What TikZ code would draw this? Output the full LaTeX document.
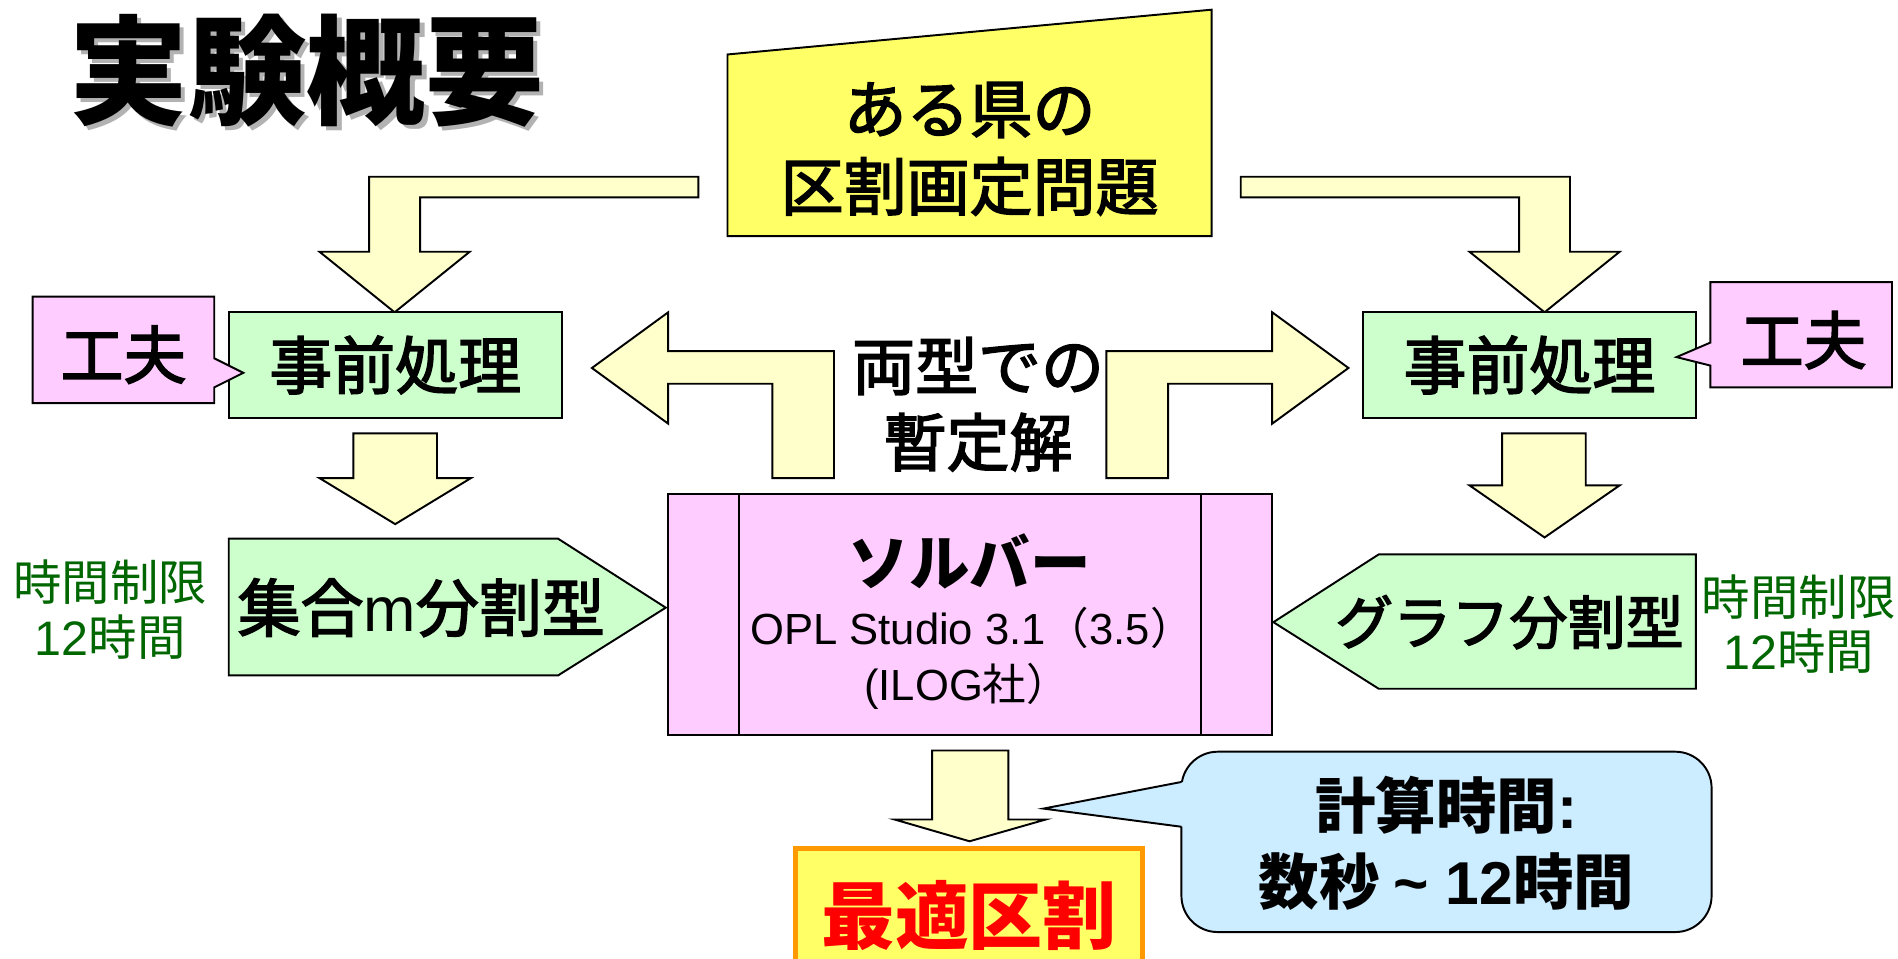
\documentclass[tikz,border=0pt]{standalone}
\usepackage{fontspec}
\setmainfont{Noto Sans CJK JP}
\newfontfamily\jpmed[FakeBold=2.5]{Noto Sans CJK JP}
\newfontfamily\lat{Liberation Sans}
\usepackage{tikz}
\usepackage{xcolor}
\definecolor{vizPale}{HTML}{FFFFCC}
\definecolor{vizYellow}{HTML}{FFFF66}
\definecolor{vizGreen}{HTML}{CCFFCC}
\definecolor{vizPink}{HTML}{FFCCFF}
\definecolor{vizBlue}{HTML}{CCECFF}
\definecolor{vizTime}{HTML}{006600}
\definecolor{vizOrange}{HTML}{FF9900}
\definecolor{vizShadow}{HTML}{B2B2B2}
\tikzset{
  outline/.style={draw=black, line width=1.6pt, line join=miter},
  fatarrow/.style={outline, fill=vizPale},
  bigtext/.style={font=\jpmed\fontsize{52}{64}\selectfont, align=center, inner sep=0pt},
  timetext/.style={font=\fontsize{40}{45}\selectfont, text=vizTime, align=center, inner sep=0pt},
}

\begin{document}
\begin{tikzpicture}[x=1pt, y=-1pt]
  \useasboundingbox (0,0) rectangle (1568,792);
  \fill[white] (0,0) rectangle (1568,792);
  \node[font=\fontsize{98}{100}\selectfont\bfseries, inner sep=0pt] (title) at (253.5,60) {{\color{vizShadow}\rlap{\kern3.5pt\raisebox{-3.5pt}{実験概要}}}実験概要};

  \draw[outline, fill=vizYellow] (601,45) -- (1001,8) -- (1001,195) -- (601,195) -- cycle;
  \node[bigtext] (prob) at (801,123) {ある県の\\区割画定問題};

  \draw[fatarrow] (577,146) -- (305,146) -- (305,208) -- (264,208) -- (326,258) -- (388,208) -- (347,208) -- (347,163) -- (577,163) -- cycle;
  \draw[fatarrow] (1025,146) -- (1297,146) -- (1297,208) -- (1338,208) -- (1276,258) -- (1214,208) -- (1255,208) -- (1255,163) -- (1025,163) -- cycle;

  \node[outline, fill=vizGreen, minimum width=275, minimum height=87, bigtext] (preL) at (326.5,301.5) {事前処理};
  \node[outline, fill=vizGreen, minimum width=275, minimum height=87, bigtext] (preR) at (1263.5,301.5) {事前処理};

  \draw[outline, fill=vizPink] (27,245) -- (177,245) -- (177,296) -- (201,308) -- (177,320) -- (177,333) -- (27,333) -- cycle;
  \node[bigtext] (ideaL) at (102,293) {工夫};
  \draw[outline, fill=vizPink] (1563,233) -- (1413,233) -- (1413,283) -- (1385,295) -- (1413,302) -- (1413,320) -- (1563,320) -- cycle;
  \node[bigtext] (ideaR) at (1490,281) {工夫};

  \draw[fatarrow] (292,358) -- (361,358) -- (361,395) -- (389,395) -- (326.5,433) -- (264,395) -- (292,395) -- cycle;
  \draw[fatarrow] (1241,358) -- (1310,358) -- (1310,401) -- (1338,401) -- (1276,444) -- (1214,401) -- (1241,401) -- cycle;

  \draw[outline, fill=vizGreen] (189,445) -- (461,445) -- (550,502) -- (461,558) -- (189,558) -- cycle;
  \node[bigtext] (setm) at (348,502) {集合{\lat m}分割型};
  \draw[outline, fill=vizGreen] (1401,458) -- (1139,458) -- (1052,514) -- (1139,569) -- (1401,569) -- cycle;
  \node[bigtext, font=\jpmed\fontsize{48}{58}\selectfont] (graph) at (1247,514) {グラフ分割型};

  \node[timetext] (limitL) at (91,503.5) {時間制限\\{\lat 12}時間};
  \node[timetext] (limitR) at (1486,515.5) {時間制限\\{\lat 12}時間};

  \node[outline, fill=vizPink, minimum width=499, minimum height=199] (solver) at (801.5,507.5) {};
  \draw[outline] ([xshift=59pt]solver.north west) -- ([xshift=59pt]solver.south west);
  \draw[outline] ([xshift=-60pt]solver.north east) -- ([xshift=-60pt]solver.south east);
  \node[font=\fontsize{50}{60}\selectfont\bfseries, inner sep=0pt] (solvername) at (801,464) {ソルバー};
  \node[font=\fontsize{36}{40}\selectfont, inner sep=0pt] (solverver) at (803,519) {{\lat OPL Studio 3.1}（{\lat 3.5}）};
  \node[font=\fontsize{36}{40}\selectfont, inner sep=0pt] (solvervendor) at (799,567) {{\lat (ILOG}社）};

  \draw[fatarrow] (689,395) -- (689,290) -- (552,290) -- (552,258) -- (489,304) -- (552,350) -- (552,317) -- (638,317) -- (638,395) -- cycle;
  \draw[fatarrow] (914,395) -- (914,290) -- (1051,290) -- (1051,258) -- (1114,304) -- (1051,350) -- (1051,317) -- (965,317) -- (965,395) -- cycle;
  \node[bigtext, font=\jpmed\fontsize{52}{63}\selectfont] (interim) at (808,334) {両型での\\暫定解};

  \draw[fatarrow] (770,620) -- (833,620) -- (833,677) -- (864,677) -- (801,695) -- (739,677) -- (770,677) -- cycle;
  \node[draw=vizOrange, line width=4pt, fill=vizYellow, minimum width=287, minimum height=110, anchor=north, text=red, font=\fontsize{61}{70}\selectfont\bfseries, inner sep=0pt] (best) at (800.5,699) {最適区割};

  \node[outline, fill=vizBlue, rounded corners=30pt, minimum width=438, minimum height=149] (calc) at (1195,695.5) {};
  \fill[vizBlue] (978,646) -- (862,668) -- (978,683) -- cycle;
  \draw[outline] (976,646) -- (862,668) -- (976,683);
  \node[font=\fontsize{50}{63}\selectfont\bfseries, align=center, inner sep=0pt] (calctext) at (1195,696.5) {計算時間{\lat :}\\数秒 {\lat \textasciitilde{} 12}時間};
\end{tikzpicture}
\end{document}
